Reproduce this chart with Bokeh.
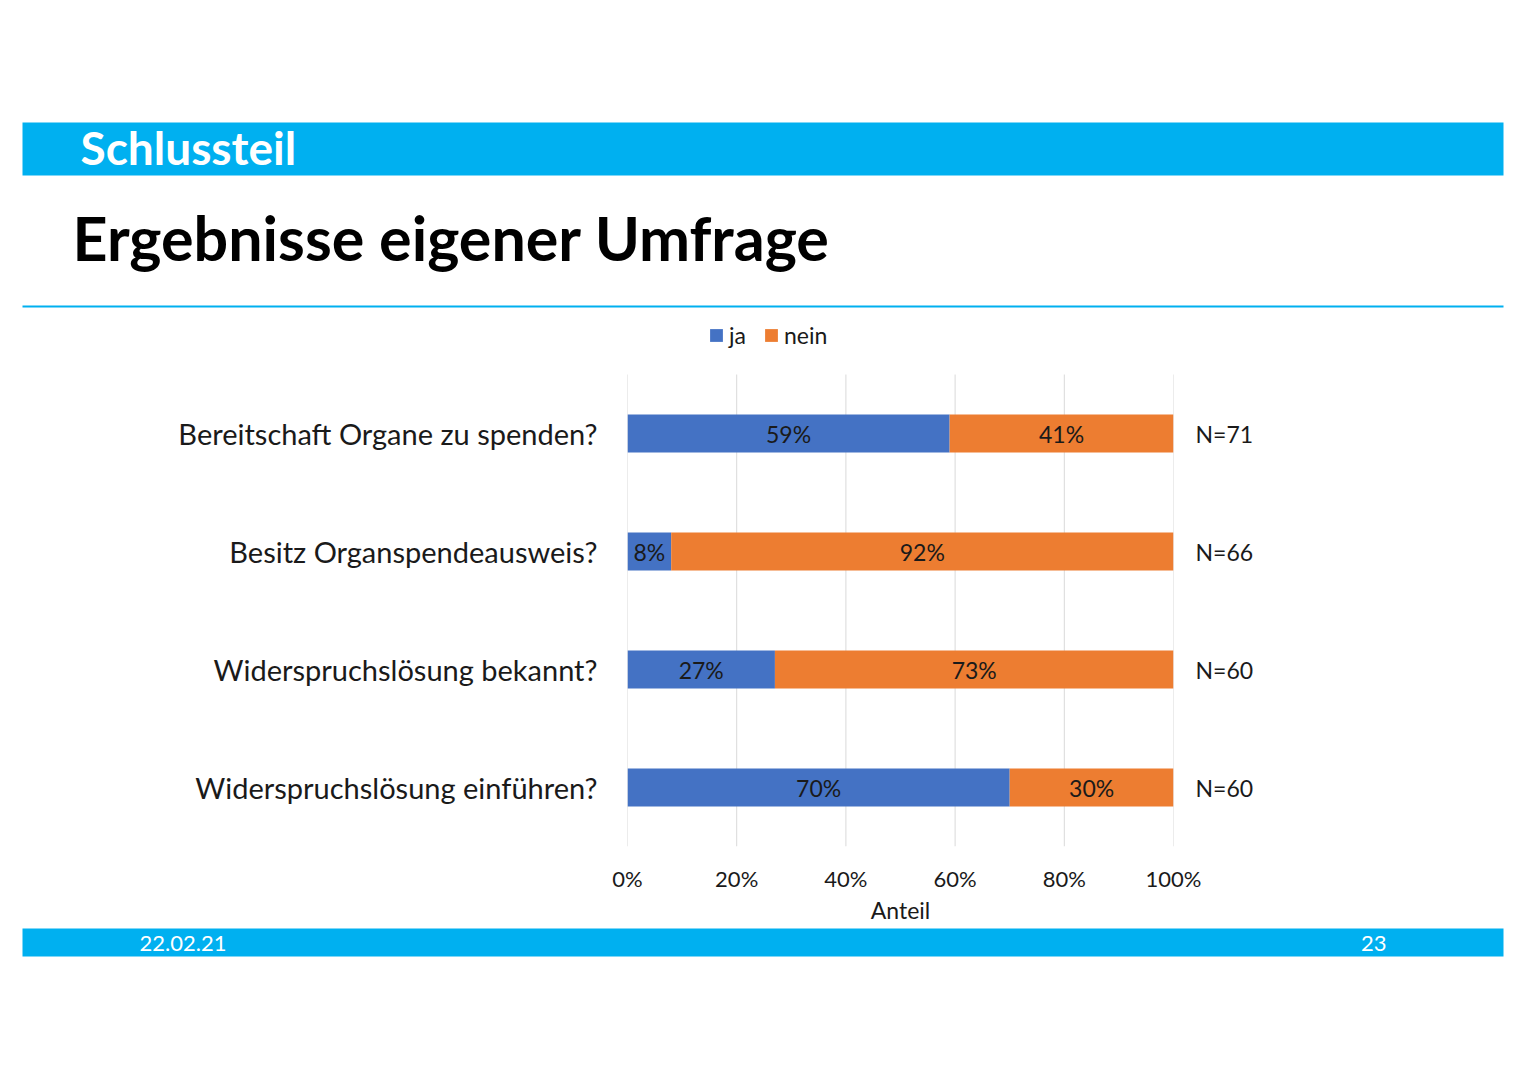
from bokeh.plotting import figure
from bokeh.models import (Range1d, FixedTicker, PrintfTickFormatter,
                          Legend, LegendItem, ColumnDataSource, LinearAxis)
from bokeh.embed import file_html
from bokeh.resources import INLINE
from bokeh.core.properties import value

# ---------------- data ----------------
questions = ["Bereitschaft Organe zu spenden?", "Besitz Organspendeausweis?",
             "Widerspruchslösung bekannt?", "Widerspruchslösung einführen?"]
ja = [59, 8, 27, 70]
nein = [41, 92, 73, 30]
n_labels = ["N=71", "N=66", "N=60", "N=60"]
x_ticks = [0, 20, 40, 60, 80, 100]
series = ["ja", "nein"]
section = "Schlussteil"
title_text = "Ergebnisse eigener Umfrage"
axis_title = "Anteil"
footer_date = "22.02.21"
footer_page = "23"

# ---------------- styles ----------------
FONT = "Lato"
BLUE_BAND = "#00B0F0"
C_JA = "#4472C4"
C_NEIN = "#ED7D31"
TXT = "#1a1a1a"
W = 1527
SLOT = 118          # px per question row
TOP_SPACE = 56      # px of frame above first row (room for legend)


def blank(height):
    f = figure(width=W, height=height, output_backend="svg", toolbar_location=None,
               x_range=Range1d(0, W), y_range=Range1d(height, 0),
               min_border=0, min_border_left=0, min_border_right=0,
               min_border_top=0, min_border_bottom=0)
    f.axis.visible = False
    f.grid.visible = False
    f.outline_line_color = None
    f.background_fill_color = "white"
    f.border_fill_color = "white"
    return f


# ---------------- header (page y 0..318) ----------------
hdr = blank(318)
hdr.quad(left=[22], right=[1503], top=[122], bottom=[175], fill_color=BLUE_BAND, line_color=None)
hdr.text(x=[80], y=[147], text=[section], text_font=value(FONT), text_font_style="bold",
         text_font_size="46px", text_color="white", text_baseline="alphabetic")
hdr.text(x=[72], y=[237], text=[title_text], text_font=value(FONT), text_font_style="bold",
         text_font_size="61px", text_color="black", text_baseline="alphabetic")
hdr.quad(left=[22], right=[1503], top=[305], bottom=[307], fill_color=BLUE_BAND, line_color=None)

# ---------------- chart (page y 318..926) ----------------
n_cat = len(questions)
pos = [n_cat - 0.5 - i for i in range(n_cat)]   # first question at the top
src = ColumnDataSource(dict(
    y=pos,
    ja_end=list(ja),
    nein_start=list(ja),
    nein_end=[a + b for a, b in zip(ja, nein)],
    ja_mid=[a / 2 for a in ja],
    nein_mid=[a + b / 2 for a, b in zip(ja, nein)],
    ja_lbl=[f"{a}%" for a in ja],
    nein_lbl=[f"{b}%" for b in nein],
))

p = figure(width=W, height=608, output_backend="svg", toolbar_location=None,
           x_range=Range1d(0, 100), y_range=Range1d(0, n_cat + TOP_SPACE / SLOT),
           min_border_left=627, min_border_right=W - 1173, min_border_top=0, min_border_bottom=80)
p.outline_line_color = None
p.background_fill_color = "white"
p.border_fill_color = "white"

# vertical grid lines only across the rows
p.xgrid.grid_line_color = None
p.ygrid.grid_line_color = None
p.segment(x0=x_ticks, x1=x_ticks, y0=[0] * len(x_ticks), y1=[n_cat] * len(x_ticks),
          line_color="#D9D9D9", line_width=1)

r_ja = p.hbar(y="y", left=0, right="ja_end", height=0.32, source=src,
              fill_color=C_JA, line_color=None)
r_nein = p.hbar(y="y", left="nein_start", right="nein_end", height=0.32, source=src,
                fill_color=C_NEIN, line_color=None)
p.text(x="ja_mid", y="y", text="ja_lbl", source=src, text_align="center",
       text_baseline="middle", text_font=value(FONT), text_font_size="23px", text_color=TXT)
p.text(x="nein_mid", y="y", text="nein_lbl", source=src, text_align="center",
       text_baseline="middle", text_font=value(FONT), text_font_size="23px", text_color=TXT)

# x axis
xa = p.xaxis[0]
xa.ticker = FixedTicker(ticks=x_ticks)
xa.formatter = PrintfTickFormatter(format="%d%%")
xa.axis_line_color = None
xa.major_tick_line_color = None
xa.minor_tick_line_color = None
xa.major_tick_out = 0
xa.major_tick_in = 0
xa.major_label_standoff = 18
xa.major_label_text_font = FONT
xa.major_label_text_font_size = "22px"
xa.major_label_text_color = TXT
xa.axis_label = axis_title
xa.axis_label_standoff = 1
xa.axis_label_text_font = FONT
xa.axis_label_text_font_size = "23px"
xa.axis_label_text_font_style = "normal"
xa.axis_label_text_color = TXT

# left y axis: question labels
ya = p.yaxis[0]
ya.ticker = FixedTicker(ticks=pos)
ya.major_label_overrides = {y: q for y, q in zip(pos, questions)}
ya.axis_line_color = None
ya.major_tick_line_color = None
ya.minor_tick_line_color = None
ya.major_tick_out = 0
ya.major_tick_in = 0
ya.major_label_standoff = 30
ya.major_label_text_font = FONT
ya.major_label_text_font_size = "29px"
ya.major_label_text_color = TXT

# right y axis: N labels
ra = LinearAxis(ticker=FixedTicker(ticks=pos),
                major_label_overrides={y: n for y, n in zip(pos, n_labels)})
ra.axis_line_color = None
ra.major_tick_line_color = None
ra.minor_tick_line_color = None
ra.major_tick_out = 0
ra.major_tick_in = 0
ra.major_label_standoff = 22
ra.major_label_text_font = FONT
ra.major_label_text_font_size = "23px"
ra.major_label_text_color = TXT
p.add_layout(ra, "right")

# legend (in the free strip above the first row)
legend = Legend(items=[LegendItem(label=series[0], renderers=[r_ja]),
                       LegendItem(label=series[1], renderers=[r_nein])],
                orientation="horizontal", location=(81, 497),
                glyph_width=16, glyph_height=16, label_standoff=5, spacing=14,
                padding=0, margin=0, border_line_color=None, background_fill_alpha=0,
                label_text_font=FONT, label_text_font_size="23px", label_text_color=TXT)
p.add_layout(legend, "center")

# ---------------- footer (page y 926..1000) ----------------
ftr = blank(74)
ftr.quad(left=[22], right=[1503], top=[2], bottom=[30], fill_color=BLUE_BAND, line_color=None)
ftr.text(x=[139], y=[17], text=[footer_date], text_font=value(FONT), text_font_size="22px",
         text_color="white", text_baseline="middle")
ftr.text(x=[1386], y=[17], text=[footer_page], text_font=value(FONT), text_font_size="22px",
         text_color="white", text_baseline="middle", text_align="right")

open("out.html", "w").write(file_html([hdr, p, ftr], INLINE))
